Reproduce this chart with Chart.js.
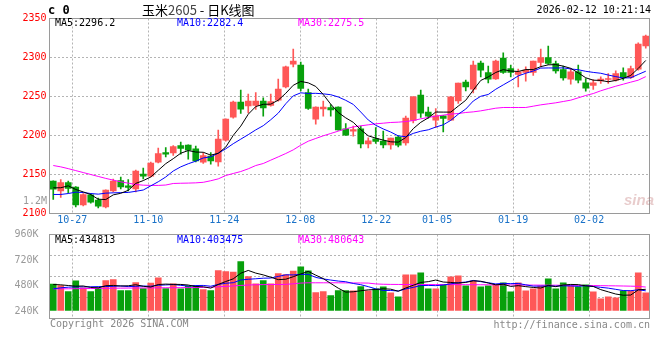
<!DOCTYPE html>
<html><head><meta charset="utf-8">
<script src="https://cdn.jsdelivr.net/npm/chart.js@4.4.1/dist/chart.umd.min.js"></script>
<style>
html,body{margin:0;padding:0;background:#fff;}
#wrap{position:relative;width:660px;height:360px;overflow:hidden;background:#fff;}
canvas{position:absolute;left:0;top:0;}
.t{position:absolute;white-space:nowrap;font-family:"DejaVu Sans Mono",monospace;font-size:10px;line-height:12px;color:#000;}
</style></head><body>
<div id="wrap">
<canvas id="pc" width="660" height="360"></canvas>
<canvas id="vc" width="660" height="360"></canvas>
<div class="t" style="left:48px;top:3px;font-size:12px;line-height:14px;font-weight:bold">c 0</div>
<div class="t" style="left:142px;top:2px;font-family:'Noto Sans CJK SC',sans-serif;font-size:13px;line-height:16px">玉米<span style="color:#444">2605</span> - 日K线图</div>
<div class="t" style="right:9px;top:4px">2026-02-12 10:21:14</div>
<div class="t" id="pm5" style="left:55px;top:17px;color:#000"></div>
<div class="t" id="pm10" style="left:177px;top:17px;color:#0000ff"></div>
<div class="t" id="pm30" style="left:298px;top:17px;color:#ff00ff"></div>
<div class="t" style="right:613px;top:195px;color:#999">1.2M</div>
<div class="t" id="vm5" style="left:55px;top:234px;color:#000"></div>
<div class="t" id="vm10" style="left:177px;top:234px;color:#0000ff"></div>
<div class="t" id="vm30" style="left:298px;top:234px;color:#ff00ff"></div>
<div class="t" style="left:50px;top:318px;color:#888">Copyright 2026 SINA.COM</div>
<div class="t" style="right:10px;top:319px;color:#888">http://finance.sina.com.cn</div>
<div class="t" style="left:624px;top:192px;font-family:'Liberation Sans',sans-serif;font-size:15px;line-height:16px;font-style:italic;font-weight:bold;color:rgba(190,110,110,0.35)">sina</div>
</div>
<script>
// ---- data ----
const DATES = ['10-22','10-23','10-24','10-27','10-28','10-29','10-30','10-31',
'11-03','11-04','11-05','11-06','11-07','11-10','11-11','11-12','11-13','11-14',
'11-17','11-18','11-19','11-20','11-21','11-24','11-25','11-26','11-27','11-28',
'12-01','12-02','12-03','12-04','12-05','12-08','12-09','12-10','12-11','12-12',
'12-15','12-16','12-17','12-18','12-19','12-22','12-23','12-24','12-25','12-26',
'12-29','12-30','12-31','01-05','01-06','01-07','01-08','01-09',
'01-12','01-13','01-14','01-15','01-16','01-19','01-20','01-21','01-22','01-23',
'01-26','01-27','01-28','01-29','01-30','02-02','02-03','02-04','02-05','02-06',
'02-09','02-10','02-11','02-12'];
const TICK_DATES = ['10-27','11-10','11-24','12-08','12-22','01-05','01-19','02-02'];
const PRICE_TICKS = [2100,2150,2200,2250,2300,2350];
const VOL_TICKS = [240000,480000,720000,960000];

const OPEN = [2141.5,2129.0,2139.7,2133.8,2111.1,2123.9,2117.1,2108.5,2129.0,2142.3,
2135.5,2131.6,2150.4,2147.9,2165.8,2178.2,2177.8,2187.2,2187.6,2182.9,
2165.8,2173.5,2166.2,2194.0,2223.5,2242.7,2238.0,2238.5,2244.0,2238.5,
2245.3,2262.4,2291.5,2290.2,2255.1,2220.9,2234.2,2235.9,2236.3,2208.5,
2205.6,2208.5,2189.3,2195.7,2192.7,2188.0,2197.9,2190.6,2219.2,2251.7,
2229.9,2219.7,2225.2,2219.7,2244.4,2268.4,2259.4,2292.7,2280.8,2272.6,
2299.1,2285.9,2278.2,2280.8,2280.8,2293.6,2300.0,2292.3,2284.6,2272.2,
2281.6,2267.5,2264.1,2270.1,2271.8,2270.9,2280.8,2274.4,2285.0,2315.0];
const HIGH = [2142.0,2143.6,2141.5,2134.5,2125.6,2125.6,2119.7,2130.2,2144.0,2146.6,
2143.6,2155.6,2158.1,2165.8,2183.8,2184.6,2187.2,2191.5,2188.0,2186.3,
2177.8,2178.2,2206.8,2221.3,2244.0,2258.1,2253.0,2255.0,2248.3,2253.0,
2272.2,2288.9,2310.7,2294.0,2259.4,2236.6,2244.0,2239.7,2236.6,2215.4,
2212.0,2212.0,2197.0,2210.3,2205.6,2196.8,2199.6,2224.8,2249.8,2258.1,
2236.3,2234.6,2225.5,2249.8,2267.3,2270.9,2295.3,2295.3,2288.9,2296.6,
2306.0,2290.2,2285.0,2288.0,2295.5,2310.7,2314.5,2295.3,2288.9,2285.9,
2290.2,2273.1,2271.8,2275.2,2279.5,2282.9,2286.8,2288.9,2318.8,2328.6];
const LOW = [2118.0,2120.5,2126.5,2108.5,2109.8,2113.2,2107.3,2107.3,2127.8,2131.6,
2129.0,2127.8,2144.4,2147.0,2165.0,2172.6,2174.4,2176.0,2169.7,2166.2,
2164.1,2163.2,2160.7,2192.7,2222.2,2228.2,2229.0,2233.3,2224.8,2237.6,
2244.0,2261.1,2288.0,2257.3,2233.3,2214.5,2224.8,2224.8,2206.8,2200.0,
2199.1,2184.2,2184.2,2189.7,2184.2,2182.5,2185.5,2187.6,2216.2,2223.1,
2222.2,2210.3,2204.7,2219.5,2241.0,2257.3,2254.7,2275.2,2267.5,2271.8,
2279.5,2275.2,2262.4,2269.7,2276.9,2288.0,2291.0,2279.9,2270.9,2265.8,
2267.5,2256.8,2259.0,2266.7,2266.7,2269.7,2270.9,2273.1,2283.8,2312.0];
const CLOSE = [2131.2,2139.7,2132.0,2111.1,2124.4,2114.5,2109.4,2129.9,2141.5,2134.2,
2133.3,2154.3,2147.9,2164.5,2176.9,2176.1,2185.9,2183.3,2181.2,2167.5,
2174.4,2167.5,2195.3,2220.9,2242.7,2233.8,2244.0,2244.0,2235.5,2243.6,
2259.4,2288.0,2295.3,2260.3,2234.6,2236.3,2236.3,2232.9,2207.3,2200.4,
2207.7,2189.3,2193.2,2192.3,2188.0,2196.6,2187.6,2222.2,2249.6,2228.6,
2224.8,2225.2,2221.8,2249.6,2267.1,2262.4,2290.2,2283.8,2272.2,2295.3,
2280.8,2280.8,2281.6,2283.8,2295.3,2300.0,2292.3,2282.9,2273.9,2281.6,
2270.9,2260.7,2267.5,2272.2,2273.1,2279.5,2274.4,2285.9,2317.1,2327.4];

const MA5 = [2132.9,2133.0,2135.5,2130.8,2127.7,2124.3,2118.3,2117.9,2123.9,2125.9,
2129.7,2138.6,2142.2,2146.8,2155.4,2163.9,2170.3,2177.3,2180.7,2178.8,
2178.5,2174.8,2177.2,2185.1,2200.2,2212.0,2227.3,2237.1,2240.0,2240.2,
2245.3,2254.1,2264.4,2269.3,2267.5,2262.9,2252.6,2240.1,2229.5,2222.6,
2216.9,2207.5,2199.6,2196.6,2194.1,2191.9,2191.5,2197.3,2208.8,2216.9,
2222.6,2230.1,2230.0,2230.0,2237.7,2245.2,2258.2,2270.6,2275.1,2280.8,
2284.5,2282.6,2282.1,2284.5,2284.5,2288.3,2290.6,2290.9,2288.9,2286.1,
2280.3,2274.0,2270.9,2270.6,2268.9,2270.6,2273.3,2277.0,2286.0,2296.2];
const MA10 = [2124.4,2124.4,2125.6,2127.4,2126.9,2125.6,2124.8,2126.1,2126.5,2126.8,
2127.0,2128.5,2130.1,2135.4,2140.7,2146.8,2154.5,2159.8,2163.8,2167.1,
2171.2,2172.6,2177.3,2182.9,2189.5,2195.3,2201.1,2207.2,2212.6,2220.2,
2228.7,2240.7,2250.8,2254.7,2253.9,2254.1,2253.4,2252.3,2249.4,2245.1,
2239.9,2230.1,2219.9,2213.1,2208.4,2204.4,2199.5,2198.5,2202.7,2205.5,
2207.3,2210.8,2213.7,2219.4,2227.3,2233.9,2244.2,2250.3,2252.6,2259.3,
2264.9,2270.4,2276.4,2279.8,2282.7,2286.4,2286.6,2286.5,2286.7,2285.3,
2284.3,2282.3,2280.9,2279.8,2277.5,2275.5,2273.7,2274.0,2278.3,2282.4];
const MA30 = [2161.5,2159.8,2157.5,2155.0,2152.5,2150.0,2147.5,2145.0,2142.8,2140.6,
2138.9,2137.2,2136.3,2136.0,2136.0,2136.5,2138.5,2138.8,2139.0,2139.3,
2140.0,2142.0,2144.4,2148.7,2151.3,2153.8,2157.3,2161.5,2164.1,2168.4,
2172.6,2176.9,2181.6,2187.6,2192.7,2196.2,2199.6,2202.6,2205.6,2208.5,
2211.0,2212.4,2213.7,2215.0,2215.8,2216.7,2217.1,2217.9,2219.2,2221.4,
2223.1,2224.8,2226.1,2227.4,2228.2,2229.5,2230.3,2231.6,2233.3,2235.0,
2235.9,2235.9,2235.9,2235.9,2237.6,2239.3,2240.6,2241.9,2243.6,2245.3,
2248.3,2251.3,2253.8,2257.3,2260.3,2263.2,2265.8,2268.4,2270.9,2275.5];

const VOLUME = [540000,512000,389000,608000,465000,389000,465000,615000,635000,410000,
410000,574000,451000,560000,670000,451000,547000,444000,499000,512000,
430000,410000,820000,800000,786000,1004000,697000,547000,615000,547000,
758000,738000,806000,895000,813000,369000,389000,307000,410000,410000,
403000,492000,403000,444000,485000,362000,280000,731000,731000,772000,
444000,444000,526000,690000,711000,506000,608000,485000,506000,526000,
567000,383000,567000,403000,444000,506000,649000,444000,567000,506000,
485000,526000,383000,239000,280000,260000,403000,403000,772000,362000];
const VMA5 = [533000,526000,512000,499000,502800,472600,463200,508400,513800,502800,
507000,528800,496000,481000,533000,541200,535800,534400,522200,490600,
486400,459000,534200,594400,649200,764000,821400,766800,729800,682000,
632800,641000,692800,748800,802000,724200,654400,554600,457600,377000,
383800,404400,423600,430400,445400,437200,394800,460400,517800,575200,
591600,624400,583400,575200,563000,575400,608200,600000,563200,526200,
538400,493400,509800,489200,472800,460600,513800,489200,522000,534400,
530200,505600,493400,427800,382600,337600,313000,317000,423600,434813];
const VMA10 = [444000,465000,478000,485000,485000,486000,490000,492000,495000,502800,
489800,496000,502200,497400,517900,524100,532300,515200,501600,511800,
513800,497400,534300,558300,569900,625200,640200,650500,662100,665600,
698400,731200,729800,739300,742000,678500,647700,623700,603200,589500,
554000,529400,489100,444000,411200,410500,399600,442000,474100,510300,
514400,509600,521900,546500,569100,583500,616300,591700,569200,544600,
556900,550800,554900,526200,499500,499500,503600,499500,505600,503600,
495400,509700,491300,474900,458500,433900,409300,405200,425700,403475];
const VMA30 = [444000,444000,445000,447000,449000,451000,453000,455000,457000,459000,
460000,461000,462000,463000,465000,466000,467000,468000,469000,470000,
472000,478000,486000,494000,504000,514000,522000,528000,531000,533000,
533000,535000,548000,562000,568000,568000,568000,568000,568000,566000,
565000,564000,562000,545000,538000,535000,534000,533000,533000,532000,
532000,531000,531000,530000,530000,529000,528000,528000,527000,526000,
525000,524000,523000,522000,521000,520000,519000,518000,517000,516000,
515000,513000,511000,509000,507000,505000,502000,499000,495000,480643];

// ---- presentation ----
const N = CLOSE.length;
const UP = '#ff5757', DOWN = '#08a00c';
const GRID_STEP = 7.6 / 7.5;   // the source draws its date grid slightly wider than the candle slots
const TICK_SLOTS = TICK_DATES.map(d => DATES.indexOf(d));
const FONT = {family: 'DejaVu Sans Mono', size: 10};
const GRID_COLOR = '#b4b4b4';
const candleColor = OPEN.map((o, i) => CLOSE[i] >= o ? UP : DOWN);
const pts = arr => arr.map((v, i) => ({x: i + 0.5, y: v}));

document.getElementById('pm5').textContent = 'MA5:' + MA5[N-1].toFixed(1);
document.getElementById('pm10').textContent = 'MA10:' + MA10[N-1].toFixed(1);
document.getElementById('pm30').textContent = 'MA30:' + MA30[N-1].toFixed(1);
document.getElementById('vm5').textContent = 'MA5:' + VMA5[N-1];
document.getElementById('vm10').textContent = 'MA10:' + VMA10[N-1];
document.getElementById('vm30').textContent = 'MA30:' + VMA30[N-1];

Chart.defaults.font.family = FONT.family;
Chart.defaults.font.size = FONT.size;

const frame = {
  id: 'frame',
  afterDatasetsDraw(chart) {
    const {ctx, chartArea: a} = chart;
    ctx.save();
    ctx.strokeStyle = '#9a9a9a';
    ctx.lineWidth = 1;
    ctx.strokeRect(a.left, a.top, a.right - a.left, a.bottom - a.top);
    ctx.restore();
  }
};
const lineDs = (data, color, yId) => ({type: 'line', data: pts(data), borderColor: color, borderWidth: 1,
  pointRadius: 0, tension: 0, order: 0, yAxisID: yId});
const xScale = (showLabels, bottomSpace) => ({
  type: 'linear', min: 0, max: N, offset: false,
  afterFit: s => { s.height = bottomSpace; },
  afterBuildTicks: s => { s.ticks = TICK_SLOTS.map(k => ({value: k * GRID_STEP})); },
  ticks: {display: showLabels, autoSkip: false, maxRotation: 0, padding: 1, color: '#1a72c8', font: FONT,
    callback: (v, idx) => DATES[TICK_SLOTS[idx]]},
  grid: {color: GRID_COLOR, lineWidth: 1, drawTicks: false, offset: false},
  border: {display: false, dash: [2, 2]}
});

new Chart(document.getElementById('pc'), {
  type: 'bar',
  data: {datasets: [
    lineDs(MA5, '#000000', 'y'),
    lineDs(MA10, '#0000ff', 'y'),
    lineDs(MA30, '#ff00ff', 'y'),
    {data: OPEN.map((o, i) => ({x: i + 0.5, y: [o, CLOSE[i]]})), backgroundColor: candleColor,
     barThickness: 6, minBarLength: 1, grouped: false, order: 1},
    {data: LOW.map((l, i) => ({x: i + 0.5, y: [l, HIGH[i]]})), backgroundColor: candleColor,
     barThickness: 1, grouped: false, order: 2}
  ]},
  options: {
    responsive: false, animation: false, events: [],
    layout: {padding: {top: 18.5, right: 10.5, left: 0, bottom: 0}},
    plugins: {legend: {display: false}, tooltip: {enabled: false}},
    scales: {
      x: xScale(true, 360 - 213.5),
      y: {min: PRICE_TICKS[0], max: PRICE_TICKS[PRICE_TICKS.length - 1],
        afterFit: s => { s.width = 49.5; },
        afterBuildTicks: s => { s.ticks = PRICE_TICKS.map(v => ({value: v})); },
        ticks: {padding: 3, color: '#ff0000', font: FONT, callback: v => String(v)},
        grid: {color: GRID_COLOR, lineWidth: 1, drawTicks: false},
        border: {display: false, dash: [2, 2]}}
    }
  },
  plugins: [frame]
});

new Chart(document.getElementById('vc'), {
  type: 'bar',
  data: {datasets: [
    lineDs(VMA5, '#000000', 'y'),
    lineDs(VMA10, '#0000ff', 'y'),
    lineDs(VMA30, '#ff00ff', 'y'),
    {data: VOLUME.map((v, i) => ({x: i + 0.5, y: v})), backgroundColor: candleColor,
     barThickness: 6, grouped: false, order: 1, yAxisID: 'y'}
  ]},
  options: {
    responsive: false, animation: false, events: [],
    layout: {padding: {top: 234.5, right: 10.5, left: 0, bottom: 0}},
    plugins: {legend: {display: false}, tooltip: {enabled: false}},
    scales: {
      x: xScale(false, 360 - 318.5),
      y: {min: -164000, max: 1558000, position: 'left',
        afterFit: s => { s.width = 0; },
        afterBuildTicks: s => { s.ticks = [1, 2, 3].map(k => ({value: s.min + k * (s.max - s.min) / 4})); },
        ticks: {display: false},
        grid: {color: GRID_COLOR, lineWidth: 1, drawTicks: false},
        border: {display: false, dash: [2, 2]}},
      yl: {min: 170000, max: 960000, position: 'left',
        afterFit: s => { s.width = 49.5; },
        afterBuildTicks: s => { s.ticks = VOL_TICKS.map(v => ({value: v})); },
        ticks: {padding: 3, color: '#999999', font: FONT, callback: v => (v / 1000) + 'K'},
        grid: {display: false},
        border: {display: false}}
    }
  },
  plugins: [frame]
});
</script>
</body></html>
